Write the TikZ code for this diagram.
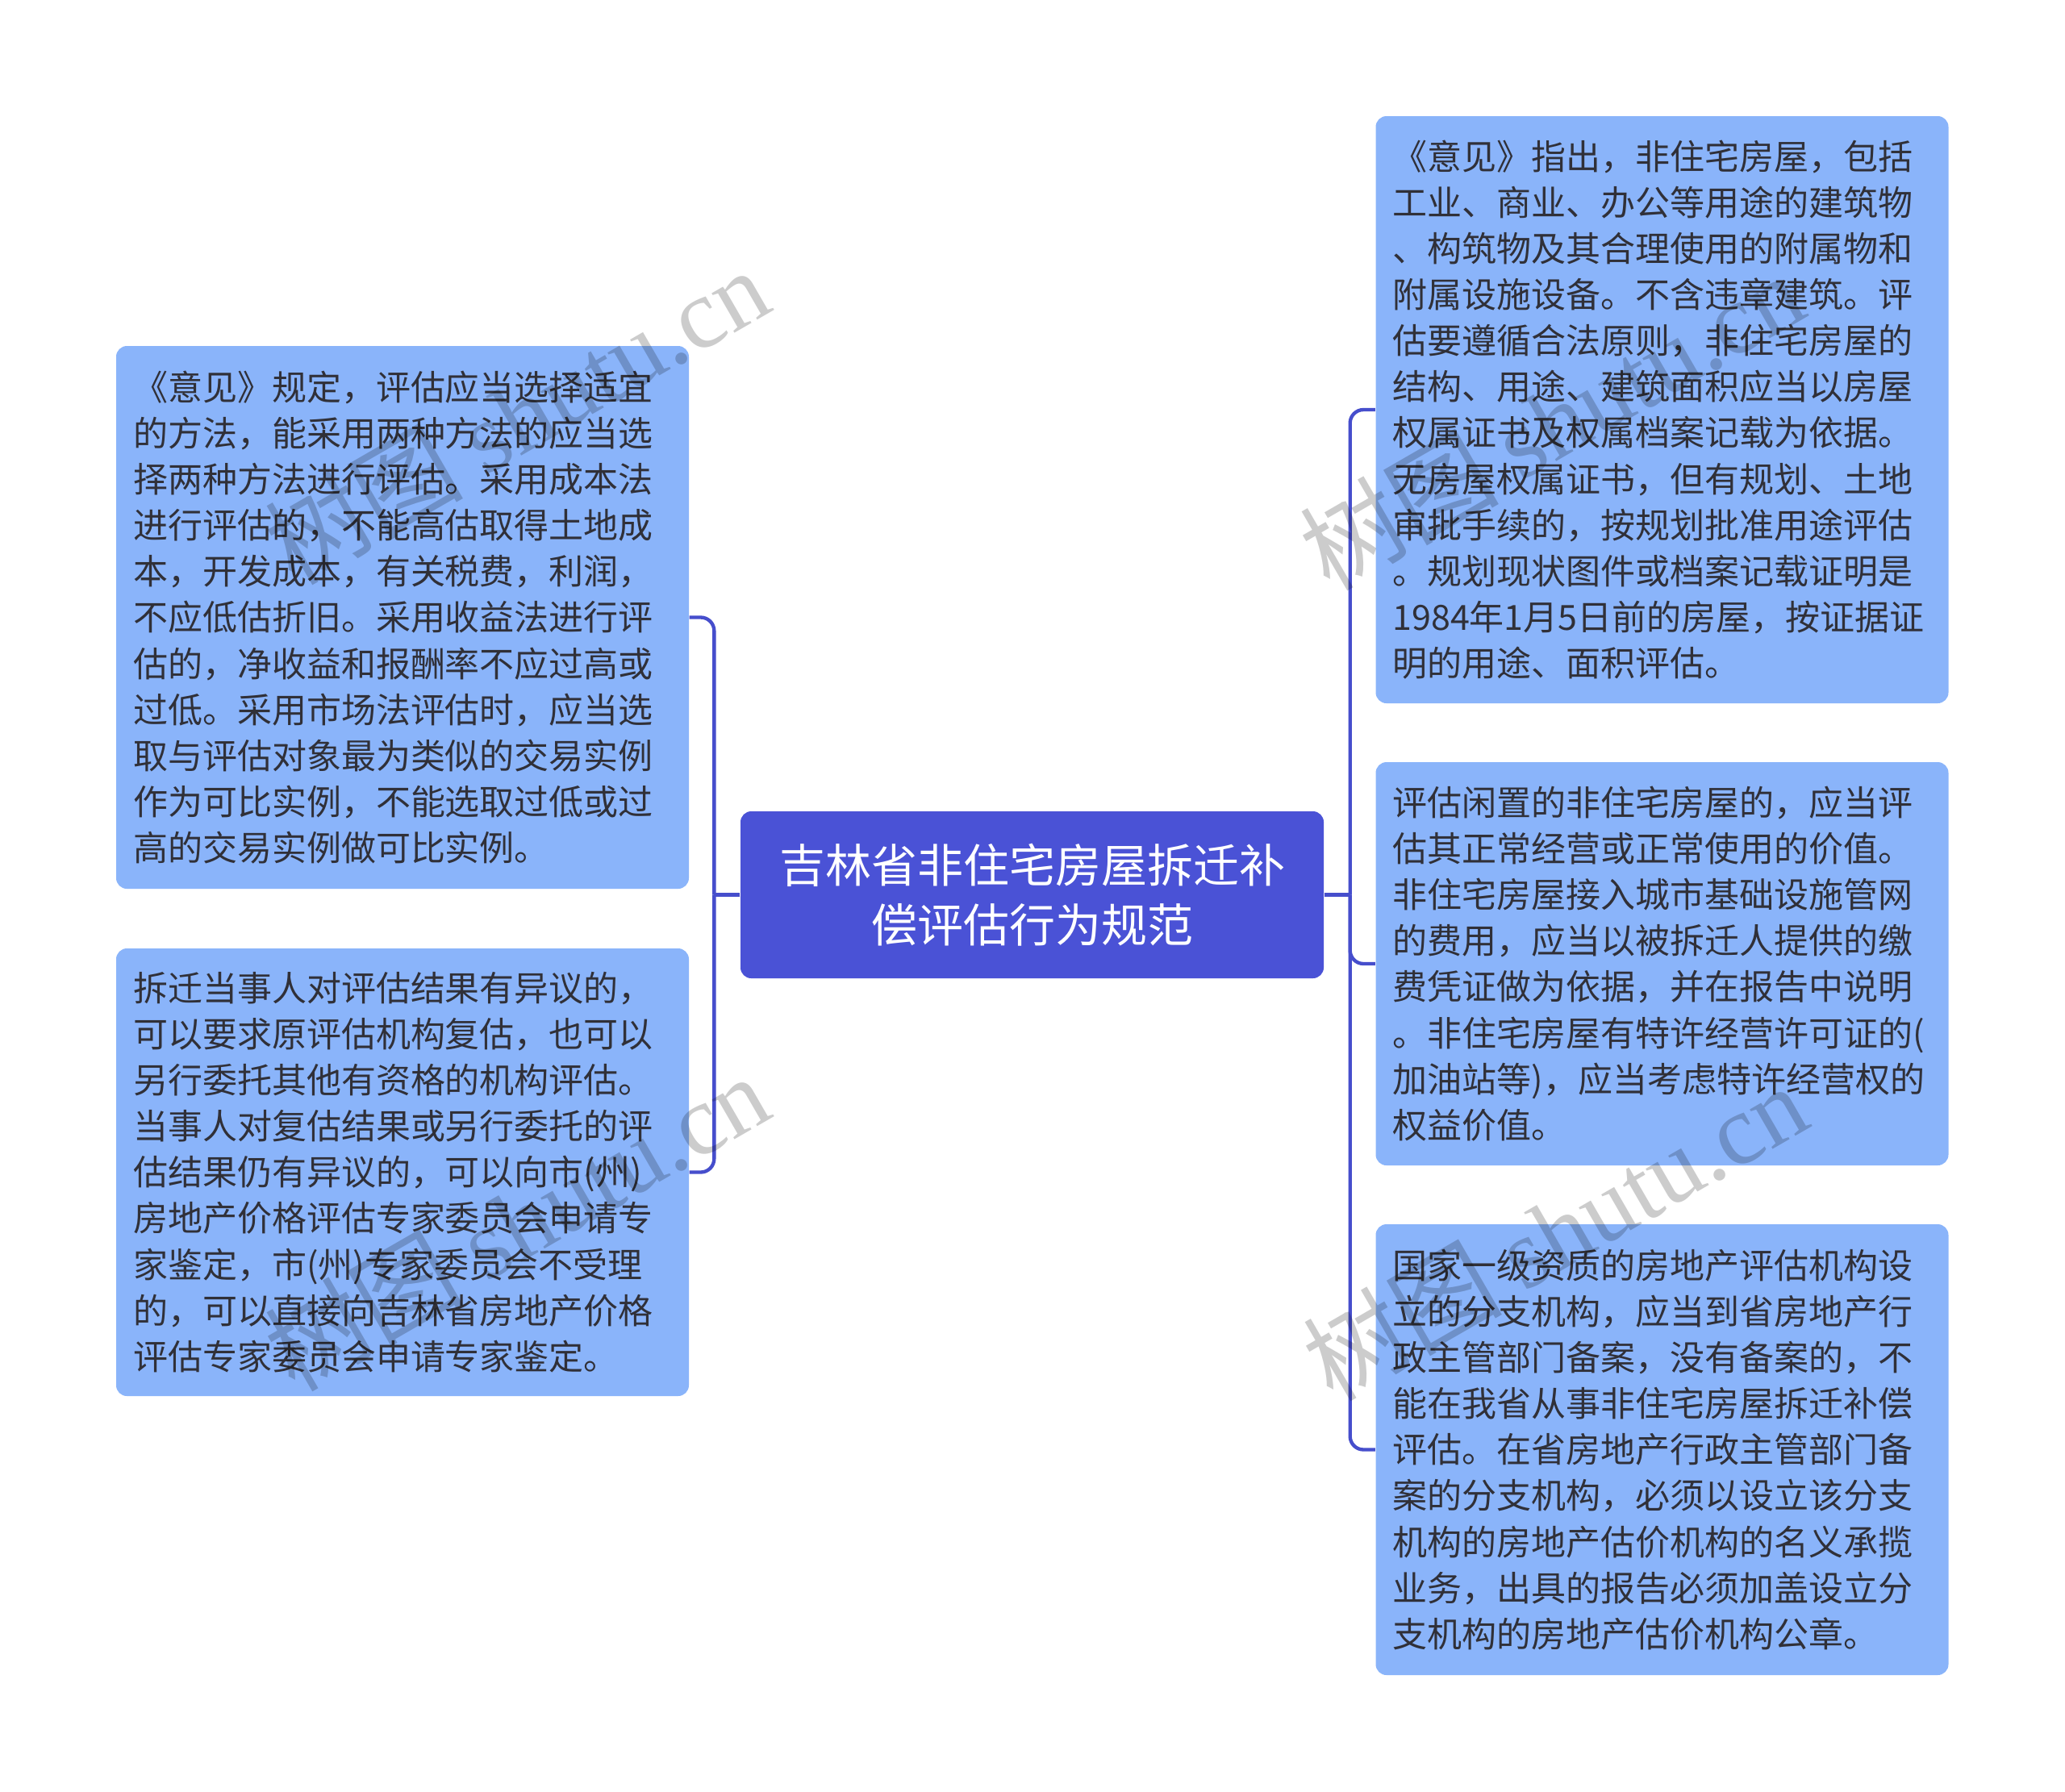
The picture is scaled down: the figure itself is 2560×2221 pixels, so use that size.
\documentclass[tikz,border=0pt]{standalone}
\usepackage{fontspec}
\setmainfont{Noto Sans CJK SC}
\newfontfamily\wmserif{Liberation Serif}
\usetikzlibrary{calc}
\definecolor{rootblue}{RGB}{74,82,214}
\definecolor{leafblue}{RGB}{138,180,250}
\definecolor{linkblue}{RGB}{70,78,204}
\definecolor{bodytext}{RGB}{48,48,56}
\begin{document}
\begin{tikzpicture}[x=0.3pt,y=-0.3pt,
  rootbox/.style={draw=none,fill=rootblue,rounded corners=4pt,text=white,align=center,
    minimum width=216.9pt,minimum height=62.1pt,inner sep=0pt,
    font=\fontsize{17.1pt}{22pt}\selectfont},
  leafbox/.style={draw=none,fill=leafblue,rounded corners=4pt,text=bodytext,align=left,
    text width=200.4pt,inner xsep=6.3pt,inner ysep=0pt,
    font=\fontsize{12.9pt}{17.13pt}\selectfont},
  conn/.style={draw=linkblue,line width=1.3pt,rounded corners=5pt},
  wmark/.style={text=black,opacity=0.2,rotate=30,inner sep=0pt,
    font=\fontsize{37pt}{40pt}\selectfont}
]
\useasboundingbox (0,0) rectangle (2560,2221);
\fill[white] (0,0) rectangle (2560,2221);

\node[rootbox] (c) at (1279.5,1109.5) {吉林省非住宅房屋拆迁补\\偿评估行为规范};

\node[leafbox,minimum height=201.9pt] (l1) at (499,765.5) {%
《意见》规定，评估应当选择适宜\\
的方法，能采用两种方法的应当选\\
择两种方法进行评估。采用成本法\\
进行评估的，不能高估取得土地成\\
本，开发成本，有关税费，利润，\\
不应低估折旧。采用收益法进行评\\
估的，净收益和报酬率不应过高或\\
过低。采用市场法评估时，应当选\\
取与评估对象最为类似的交易实例\\
作为可比实例，不能选取过低或过\\
高的交易实例做可比实例。};

\node[leafbox,minimum height=166.5pt] (l2) at (499,1453.5) {%
拆迁当事人对评估结果有异议的，\\
可以要求原评估机构复估，也可以\\
另行委托其他有资格的机构评估。\\
当事人对复估结果或另行委托的评\\
估结果仍有异议的，可以向市(州)\\
房地产价格评估专家委员会申请专\\
家鉴定，市(州)专家委员会不受理\\
的，可以直接向吉林省房地产价格\\
评估专家委员会申请专家鉴定。};

\node[leafbox,minimum height=218.4pt] (r1) at (2060.5,508) {%
《意见》指出，非住宅房屋，包括\\
工业、商业、办公等用途的建筑物\\
、构筑物及其合理使用的附属物和\\
附属设施设备。不含违章建筑。评\\
估要遵循合法原则，非住宅房屋的\\
结构、用途、建筑面积应当以房屋\\
权属证书及权属档案记载为依据。\\
无房屋权属证书，但有规划、土地\\
审批手续的，按规划批准用途评估\\
。规划现状图件或档案记载证明是\\
1984年1月5日前的房屋，按证据证\\
明的用途、面积评估。};

\node[leafbox,minimum height=150pt] (r2) at (2060.5,1195) {%
评估闲置的非住宅房屋的，应当评\\
估其正常经营或正常使用的价值。\\
非住宅房屋接入城市基础设施管网\\
的费用，应当以被拆迁人提供的缴\\
费凭证做为依据，并在报告中说明\\
。非住宅房屋有特许经营许可证的(\\
加油站等)，应当考虑特许经营权的\\
权益价值。};

\node[leafbox,minimum height=167.7pt] (r3) at (2060.5,1797.5) {%
国家一级资质的房地产评估机构设\\
立的分支机构，应当到省房地产行\\
政主管部门备案，没有备案的，不\\
能在我省从事非住宅房屋拆迁补偿\\
评估。在省房地产行政主管部门备\\
案的分支机构，必须以设立该分支\\
机构的房地产估价机构的名义承揽\\
业务，出具的报告必须加盖设立分\\
支机构的房地产估价机构公章。};

\coordinate (lt) at ($(c.west)+(-32,0)$);
\coordinate (rt) at ($(c.east)+(32,0)$);

\draw[conn] (c.west) -- (lt);
\draw[conn] (l1.east) -| (lt);
\draw[conn] (l2.east) -| (lt);
\draw[conn] (c.east) -- (rt);
\draw[conn] (r1.west) -| (rt);
\draw[conn] (r2.west) -| (rt);
\draw[conn] (r3.west) -| (rt);

\node[wmark] (w1) at (640,515) {树图 {\wmserif shutu.cn}};
\node[wmark] (w2) at (1923,522) {树图 {\wmserif shutu.cn}};
\node[wmark] (w3) at (640,1515) {树图 {\wmserif shutu.cn}};
\node[wmark] (w4) at (1927,1527) {树图 {\wmserif shutu.cn}};
\end{tikzpicture}
\end{document}
